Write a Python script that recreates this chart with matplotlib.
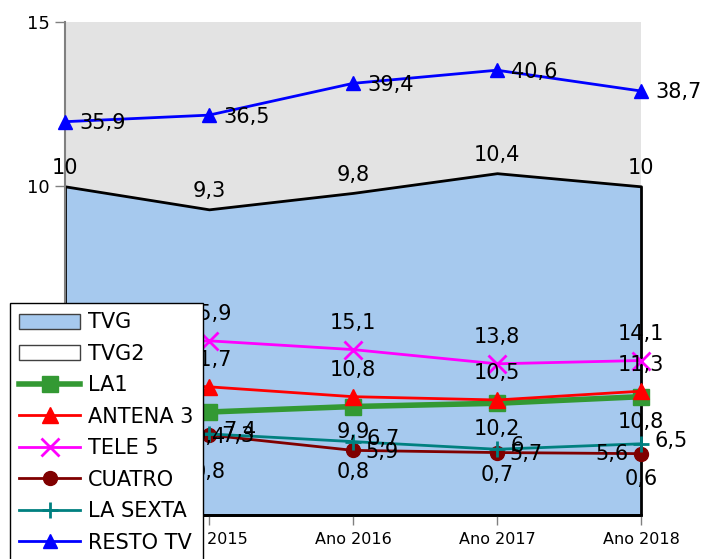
import numpy as np
import matplotlib.pyplot as plt
from matplotlib.patches import Patch
from matplotlib.lines import Line2D

# audience share per channel (%)
years = ['Ano 2014', 'Ano 2015', 'Ano 2016', 'Ano 2017', 'Ano 2018']
tvg = [10, 9.3, 9.8, 10.4, 10]
tvg2 = [0.8, 0.8, 0.8, 0.7, 0.6]
la1 = [10.0, 9.4, 9.9, 10.2, 10.8]
antena3 = [12.3, 11.7, 10.8, 10.5, 11.3]
tele5 = [15.2, 15.9, 15.1, 13.8, 14.1]
cuatro = [6.5, 7.3, 5.9, 5.7, 5.6]
lasexta = [7.1, 7.4, 6.7, 6.0, 6.5]
resto = [35.9, 36.5, 39.4, 40.6, 38.7]

W, H = 704, 559
fig = plt.figure(figsize=(W / 100, H / 100), dpi=100)
ax = fig.add_axes([65 / W, 1 - 515 / H, (641 - 65) / W, (515 - 22) / H])
ax.set_facecolor('#E3E3E3')

x = np.arange(len(years))
ax.set_xlim(0, len(years) - 1)
ax.set_ylim(0, 15)
ax.set_xticks(x, years)
ax.set_yticks([0, 5, 10, 15])
ax.tick_params(axis='x', length=7, width=1, color='#808080', labelsize=11.5, pad=5)
ax.tick_params(axis='y', length=7, width=1, color='#808080', labelsize=13, pad=4)
for s in ['top', 'right']:
    ax.spines[s].set_visible(False)
ax.spines['left'].set_color('#808080')
ax.spines['left'].set_linewidth(1.5)
ax.spines['bottom'].set_color('black')
ax.spines['bottom'].set_linewidth(2)

# areas on the primary axis
ax.fill_between(x, tvg2, facecolor='white', edgecolor='black', lw=1, zorder=1)
ax.fill_between(x, tvg, facecolor='#A6C9EE', edgecolor='black', lw=2,
                zorder=1.5, clip_on=False)


def fmt(v):
    return f'{v:g}'.replace('.', ',')


def put_labels(axis, vals, dx, dy, ha, va):
    for xi, v in zip(x, vals):
        axis.annotate(fmt(v), (xi, v), xytext=(dx, dy), textcoords='offset points',
                      ha=ha, va=va, fontsize=15, annotation_clip=False, zorder=6)


put_labels(ax, tvg, 0, 6, 'center', 'bottom')
put_labels(ax, tvg2, 0, 12, 'center', 'center')

# lines on a hidden secondary axis (0-45)
ax2 = ax.twinx()
ax2.set_ylim(0, 45)
ax2.axis('off')

series = [
    ('LA1', la1, '#339933', 's', 4, 12),
    ('ANTENA 3', antena3, '#FF0000', '^', 2, 11),
    ('TELE 5', tele5, '#FF00FF', 'x', 2, 13),
    ('CUATRO', cuatro, '#800000', 'o', 2, 10),
    ('LA SEXTA', lasexta, '#008080', '+', 2, 11),
    ('RESTO TV', resto, '#0000FF', '^', 2, 10),
]
for name, vals, c, m, lw, ms in series:
    ax2.plot(x, vals, color=c, lw=lw, marker=m, ms=ms, mew=2 if m in 'x+' else 1,
             clip_on=False)

put_labels(ax2, la1, 0, -11, 'center', 'top')
put_labels(ax2, antena3, 0, 12, 'center', 'bottom')
put_labels(ax2, tele5, 0, 12, 'center', 'bottom')
put_labels(ax2, cuatro[:-1], 9, -1, 'left', 'center')
ax2.annotate(fmt(cuatro[-1]), (x[-1], cuatro[-1]), xytext=(-9, 0),
             textcoords='offset points', ha='right', va='center', fontsize=15,
             annotation_clip=False, zorder=6)
put_labels(ax2, lasexta, 10, 2, 'left', 'center')
put_labels(ax2, resto, 10, -1, 'left', 'center')

handles = [
    Patch(facecolor='#A6C9EE', edgecolor='#404040', label='TVG'),
    Patch(facecolor='white', edgecolor='#404040', label='TVG2'),
]
for name, vals, c, m, lw, ms in series:
    handles.append(Line2D([], [], color=c, lw=lw, marker=m, ms=ms,
                          mew=2 if m in 'x+' else 1, label=name))

leg = fig.legend(handles=handles, loc='upper left', bbox_to_anchor=(10 / W, 1 - 303 / H),
                 borderaxespad=0, fancybox=False, edgecolor='black', framealpha=1,
                 fontsize=15, handlelength=2.9, handleheight=0.72, handletextpad=0.4,
                 labelspacing=0.55, borderpad=0.45)
leg.get_frame().set_linewidth(1)

fig.savefig('out.png', dpi=100)
